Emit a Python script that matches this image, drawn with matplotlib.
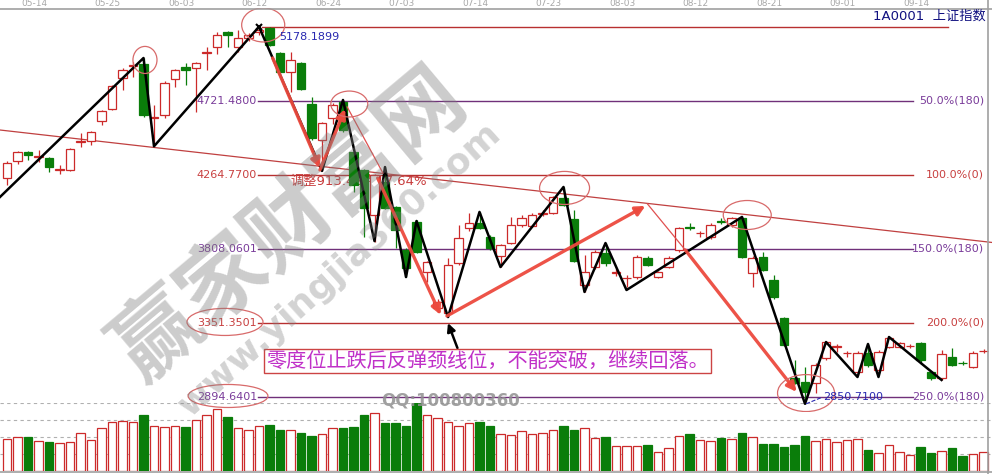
import numpy as np
import matplotlib
matplotlib.use('Agg')
import matplotlib.pyplot as plt
from matplotlib.patches import Ellipse
from matplotlib.lines import Line2D

plt.rcParams['font.family'] = ['DejaVu Sans', 'Noto Sans CJK SC']

# ---- 数据 ----
opens = [4244, 4349, 4405, 4374, 4368, 4294, 4294, 4465, 4473, 4596,
         4670, 4862, 4935, 4948, 4615, 4633, 4855, 4930, 4923, 5016,
         5053, 5146, 5053, 5109, 5145, 5170, 5016, 4899, 4954, 4701,
         4479, 4615, 4714, 4405, 4294, 4016, 4220, 4065, 3800, 3973,
         3664, 3442, 3411, 3720, 3936, 3967, 3880, 3763, 3843, 3954,
         3948, 4025, 4028, 4121, 3991, 3584, 3695, 3782, 3660, 3625,
         3633, 3751, 3633, 3695, 3800, 3940, 3903, 3880, 3975, 3954,
         3998, 3658, 3757, 3615, 3380, 3010, 2985, 2979, 3133, 3200,
         3164, 3047, 3164, 3059, 3201, 3201, 3205, 3226, 3047, 3010,
         3140, 3104, 3078, 3175]
highs = [4349, 4410, 4410, 4417, 4372, 4325, 4430, 4522, 4535, 4664,
         4818, 4925, 4960, 4985, 4695, 4840, 4920, 4954, 4960, 5053,
         5146, 5150, 5158, 5140, 5178.19, 5176, 5020, 5022, 4960, 4744,
         4590, 4705, 4726, 4410, 4300, 4270, 4312, 4070, 3810, 3985,
         3735, 3500, 3750, 3954, 4028, 4035, 3890, 3840, 4004, 4015,
         4030, 4045, 4135, 4189, 4047, 3769, 3800, 3843, 3690, 3646,
         3770, 3760, 3670, 3760, 3945, 3965, 3920, 3965, 3998, 4005,
         4004, 3760, 3788, 3646, 3385, 3121, 3078, 3100, 3240, 3220,
         3175, 3175, 3214, 3180, 3265, 3235, 3220, 3232, 3055, 3180,
         3195, 3115, 3175, 3190]
lows = [4201, 4331, 4355, 4343, 4281, 4270, 4290, 4436, 4448, 4572,
        4664, 4788, 4868, 4620, 4448, 4615, 4806, 4818, 4652, 4911,
        5010, 5053, 5022, 5090, 5125, 5060, 4890, 4775, 4790, 4480,
        4288, 4580, 4530, 4158, 3880, 3849, 4050, 3812, 3633, 3780,
        3602, 3420, 3386, 3710, 3920, 3930, 3800, 3695, 3835, 3940,
        3940, 4010, 4020, 4070, 3725, 3541, 3680, 3700, 3640, 3570,
        3620, 3700, 3625, 3690, 3790, 3925, 3880, 3870, 3960, 3940,
        3750, 3572, 3670, 3500, 3209, 2970, 2850.71, 2917, 3120, 3170,
        3140, 3030, 3080, 3040, 3195, 3195, 3195, 3098, 3000, 3000,
        3085, 3090, 3070, 3165]
closes = [4337, 4405, 4386, 4380, 4312, 4300, 4423, 4472, 4528, 4658,
          4812, 4911, 4942, 4633, 4621, 4831, 4911, 4911, 4954, 5022,
          5127, 5127, 5109, 5127, 5160, 5065, 4899, 4973, 4794, 4491,
          4584, 4695, 4541, 4201, 4059, 4263, 4059, 3923, 3689, 3788,
          3726, 3479, 3707, 3874, 3967, 3936, 3812, 3831, 3954, 3998,
          4016, 4030, 4127, 4078, 3732, 3664, 3788, 3720, 3664, 3627,
          3757, 3707, 3664, 3751, 3936, 3936, 3905, 3954, 3973, 3998,
          3757, 3751, 3677, 3510, 3214, 2979, 2924, 3090, 3232, 3210,
          3167, 3164, 3090, 3170, 3257, 3226, 3208, 3121, 3010, 3158,
          3090, 3100, 3164, 3177]
volumes = [31.7, 33.7, 33.7, 30, 29, 27.7, 28.7, 37.7, 31, 42.7,
           48.7, 50, 48.7, 56, 44.7, 43.7, 44.7, 43.7, 50.7, 55.7,
           61.7, 54, 42.7, 40.7, 44.7, 46, 41, 40.7, 38, 35,
           37, 42.7, 42.7, 44, 56, 57.7, 48.3, 48.3, 45, 68.3,
           56, 52.7, 48.7, 45, 47.7, 49, 45, 37, 36, 40,
           37, 37.7, 41, 45, 41, 42.7, 33.3, 34, 25, 25,
           25, 26, 18.7, 23.3, 35, 37, 31, 30, 33.3, 32,
           38, 33.7, 27.3, 27.3, 24, 26, 35, 30, 31.7, 29,
           31, 31.7, 21, 18.3, 25.7, 19, 16, 23.7, 18.3, 20,
           22.7, 15, 17, 19]

date_idx = [3, 10, 17, 24, 31, 38, 45, 52, 59, 66, 73, 80, 87]
date_labels = ['05-14', '05-25', '06-03', '06-12', '06-24', '07-03', '07-14',
               '07-23', '08-03', '08-12', '08-21', '09-01', '09-14']

fib_prices = [4721.48, 4264.77, 3808.0601, 3351.3501, 2894.6401]
fib_left = ['4721.4800', '4264.7700', '3808.0601', '3351.3501', '2894.6401']
fib_right = ['50.0%(180)', '100.0%(0)', '150.0%(180)', '200.0%(0)', '250.0%(180)']
top_price = 5178.1899
low_price = 2850.71

# 波浪折线 (k线序号, 点位)
zig_x = [-0.67, 13, 14, 24, 30, 32, 35, 36, 38, 39, 42, 45, 47, 53, 55, 57, 59,
         70, 76, 78, 81, 82, 83, 84, 89]
zig_y = [4127, 4985, 4440, 5178, 4288, 4726, 3855, 4312, 3633, 3979, 3386, 4035,
         3695, 4189, 3541, 3843, 3553, 4004, 2850.71, 3232, 3016, 3220, 3016,
         3263, 2998]

# 红色箭头 (起点 -> 终点)
arrows = [((25.3, 4985), (29.8, 4306)),
          ((29.8, 4294), (32.2, 4670)),
          ((35.3, 4244), (41.3, 3399)),
          ((41.9, 3393), (60.8, 4072)),
          ((64.6, 3800), (75.2, 2924))]
thin_lines = [((32.4, 4683), (35.8, 4275)), ((61.0, 4084), (64.6, 3800))]

# 圈 (中心, 宽, 高)
circles = [((13.14, 4973), 2.29, 167), ((24.4, 5189), 4.1, 210),
           ((32.6, 4701), 3.52, 160), ((53.1, 4183), 4.76, 204),
           ((70.5, 4016), 4.57, 179), ((76.1, 2917), 5.43, 228),
           ((20.76, 3356), 7.24, 167), ((21.05, 2899), 7.6, 142)]

RED = '#cc2a2a'
GREEN = '#0a7d0a'
PURPLE = '#70307a'

fig = plt.figure(figsize=(9.92, 4.74), dpi=100)
W, H = 992, 474

def px_i(x):
    return (x - 7) / 10.5

xlim = (px_i(0), px_i(W))

# 成交量
axv = fig.add_axes([0, 3 / H, 1, 68 / H])
axv.set_xlim(*xlim)
axv.set_ylim(0, 68)
axv.axis('off')
idx = np.arange(len(opens))
up = np.array(closes) >= np.array(opens)
for g in [17, 34, 51, 68]:
    axv.axhline(g, color='#b0b0b0', lw=0.8, ls=(0, (3, 3)), zorder=0)
axv.bar(idx[up], np.array(volumes)[up], width=0.78, facecolor='white',
        edgecolor=RED, lw=0.9, zorder=2)
axv.bar(idx[~up], np.array(volumes)[~up], width=0.78, facecolor=GREEN,
        edgecolor=GREEN, lw=0.9, zorder=2)

# 主图
ax = fig.add_axes([0, (H - 412) / H, 1, 404 / H])
ax.patch.set_alpha(0)
ax.set_xlim(*xlim)
ax.set_ylim(5343 - 6.172 * 412, 5343 - 6.172 * 8)
ax.axis('off')

# 黄金分割线
xl0, xl1 = px_i(258), px_i(913)
for k, (p, lt, rt) in enumerate(zip(fib_prices, fib_left, fib_right)):
    c = PURPLE if k % 2 == 0 else '#b83030'
    tc = '#7a3c9a' if k % 2 == 0 else '#c84040'
    ax.plot([xl0, xl1], [p, p], color=c, lw=1, zorder=1)
    ax.text(px_i(257), p, lt, color=tc, fontsize=8, ha='right', va='center', zorder=7)
    ax.text(px_i(984), p, rt, color=tc, fontsize=8, ha='right', va='center', zorder=7)
ax.plot([px_i(262), px_i(948)], [top_price, top_price], color='#b83030', lw=1, zorder=1)
ax.text(px_i(279), top_price - 62, '5178.1899', color='#2828b0', fontsize=8,
        ha='left', va='center', zorder=7)
ax.text(px_i(823), low_price + 43, '2850.7100', color='#2828b0', fontsize=8,
        ha='left', va='center', zorder=7)
ax.plot([76.1, px_i(822)], [low_price, low_price + 40], color='#2828b0', lw=0.8,
        ls='--', zorder=6)

# 下降趋势线
ax.axline((px_i(0), 4540.6), (px_i(988), 3849.4), color='#c04040', lw=0.9, zorder=1)

# K线
ax.vlines(idx[up], np.array(lows)[up], np.array(highs)[up], color=RED, lw=0.9, zorder=2)
ax.vlines(idx[~up], np.array(lows)[~up], np.array(highs)[~up], color=GREEN, lw=0.9, zorder=2)
body = np.abs(np.array(closes) - np.array(opens))
body = np.maximum(body, 3)
bottom = np.minimum(opens, closes)
ax.bar(idx[up], body[up], bottom=bottom[up], width=0.8, facecolor='white',
       edgecolor=RED, lw=0.9, zorder=3)
ax.bar(idx[~up], body[~up], bottom=bottom[~up], width=0.8, facecolor=GREEN,
       edgecolor=GREEN, lw=0.9, zorder=3)

# 调整文字
ax.text(px_i(290), 4226, '调整913.42点17.64%', color='#c83c3c', fontsize=9.5,
        ha='left', va='center', zorder=2.5)

# 波浪线
ax.plot(zig_x, zig_y, color='black', lw=1.8, zorder=4)
ax.plot([24], [top_price], marker='x', color='black', ms=5, mew=1.5, zorder=4)

# 红色箭头
for (s, e) in arrows:
    ax.annotate('', xy=e, xytext=s, zorder=5,
                arrowprops=dict(arrowstyle='-|>', color='#ec4a3e', lw=2.4,
                                mutation_scale=14, shrinkA=0, shrinkB=0, alpha=0.95))
for (s, e) in thin_lines:
    ax.plot([s[0], e[0]], [s[1], e[1]], color='#e05050', lw=0.9, zorder=5)

# 黑色箭头
ax.annotate('', xy=(42.0, 3349), xytext=(42.9, 3195), zorder=5,
            arrowprops=dict(arrowstyle='-|>', color='black', lw=1.8,
                            mutation_scale=12, shrinkA=0, shrinkB=0))

for (c, w, h) in circles:
    ax.add_patch(Ellipse(c, w, h, fill=False, ec='#d86a6a', lw=0.9, zorder=5))

# 说明文字框
ax.text(px_i(266), 5343 - 6.172 * 361, '零度位止跌后反弹颈线位，不能突破，继续回落。',
        color='#c030c8', fontsize=14.5, ha='left', va='center', zorder=7,
        bbox=dict(boxstyle='square,pad=0.12', fc='white', ec='#cc4444', lw=1))

# 日期
for i, lab in zip(date_idx, date_labels):
    ax.text(i - 0.4, 1 + 4 / 404, lab, transform=ax.get_xaxis_transform(),
            color='#a8a8a8', fontsize=6.5, ha='center', va='center', clip_on=False)

# 边框
fig.add_artist(Line2D([0, 1], [(H - 8.5) / H] * 2, color='#a0a0a0', lw=1.2))
fig.add_artist(Line2D([0, 1], [2.5 / H] * 2, color='#a0a0a0', lw=1.2))
fig.add_artist(Line2D([988 / W] * 2, [0, 1], color='#a0a0a0', lw=1.2))

fig.text(986 / W, 1 - 16 / H, '1A0001  上证指数', color='#101080', fontsize=9.5,
         ha='right', va='center')

# 水印
fig.text(290 / W, 1 - 225 / H, '赢家财富网', color='#808080', alpha=0.4,
         fontsize=62, fontweight='bold', rotation=40, ha='center', va='center',
         family=['Noto Sans CJK SC'], zorder=10)
fig.text(340 / W, 1 - 270 / H, 'www.yingjia360.com', color='#808080', alpha=0.35,
         fontsize=26, fontweight='bold', rotation=42, ha='center', va='center', zorder=10)
fig.text(451 / W, 1 - 401 / H, 'QQ:100800360', color='#909090', alpha=0.85,
         fontsize=12, fontweight='bold', ha='center', va='center', zorder=10)

fig.savefig('out.png', dpi=100)
